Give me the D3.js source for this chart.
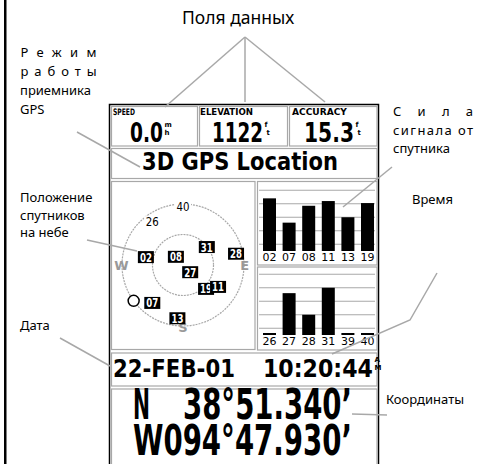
<!DOCTYPE html>
<meta charset="utf-8">
<script src="https://d3js.org/d3.v7.min.js"></script>
<style>body{margin:0;background:#fff}</style>
<div id="my_dataviz"></div>
<script>
// data fields on top of the screen
var fieldLabels = ["SPEED", "ELEVATION", "ACCURACY"];
var fieldValues = ["0.0", "1122", "15.3"];
var fieldUnitsTop = ["m", "f", "f"];
var fieldUnitsBottom = ["h", "t", "t"];
var receiverMode = "3D GPS Location";

// sky view: satellite id, azimuth (deg), elevation (deg), tracked
var skyIds = ["02", "08", "31", "28", "27", "19", "11", "07", "13", "40", "26"];
var skyAzimuth = [282, 319, 53, 78, 135, 136, 122, 219, 186, 0, 325];
var skyElevation = [34, 74, 46, 10, 75, 41, 29, 18, 11, 4, 11];
var skyTracked = [true, true, true, true, true, true, true, true, true, false, false];
var skyRings = [0, 45];
var compassLetters = ["W", "E", "S"];
var compassAzimuth = [270, 90, 180];

// signal strength bars
var sigIdsTop = ["02", "07", "08", "11", "13", "19"];
var sigTop = [3.9, 2.1, 3.35, 3.7, 2.5, 3.55];
var sigIdsBottom = ["26", "27", "28", "31", "39", "40"];
var sigBottom = [0, 3.1, 1.5, 3.5, 0, 0];
var sigGrid = [0.5, 1.5, 2.5, 3.5, 4.5];

// date, time, position
var dateText = "22-FEB-01";
var timeText = "10:20:44";
var timeSuffix = ["A", "M"];
var latHemi = "N";
var latText = "38°51.340’";
var lonText = "W094°47.930’";

var W = 482, H = 464;
var svg = d3.select("#my_dataviz").append("svg")
    .attr("width", W).attr("height", H);

var gray = "#a8a8a8";
var screenFont = "DejaVu Sans, sans-serif";
var noteFont = "Noto Sans, sans-serif";

// left page edge
svg.append("rect").attr("x", 4).attr("y", 0).attr("width", 2.5).attr("height", H).attr("fill", "#000");

// screen frame
svg.append("rect").attr("x", 109.5).attr("y", 104.5).attr("width", 269).attr("height", 380)
    .attr("fill", "none").attr("stroke", "#000").attr("stroke-width", 1.5);

function box(x, y, w, h) {
    svg.append("rect").attr("x", x).attr("y", y).attr("width", w).attr("height", h)
        .attr("fill", "none").attr("stroke", gray).attr("stroke-width", 1.2);
}
box(111.5, 106.5, 86, 39.5);
box(199.5, 106.5, 88, 39.5);
box(289.5, 106.5, 87.5, 39.5);
box(111.5, 148.5, 265.5, 30);
box(111.5, 181.5, 143.5, 168);
box(257.5, 181.5, 119.5, 83.5);
box(257.5, 267, 119.5, 83);
box(111.5, 353, 265.5, 33);
box(111.5, 389, 265.5, 80);

// text squeezed horizontally to a given width (LCD look)
function txt(s, x, y, size, len, opt) {
    opt = opt || {};
    var t = svg.append("text")
        .attr("font-family", opt.font || screenFont)
        .attr("font-weight", opt.weight || "bold")
        .attr("font-size", size)
        .attr("fill", opt.fill || "#000")
        .attr("text-anchor", opt.anchor || "start")
        .text(s);
    if (len && opt.adjust == "spacing") {
        t.attr("x", x).attr("y", y).attr("textLength", len).attr("lengthAdjust", "spacing");
    } else if (len) {
        var k = len / t.node().getComputedTextLength();
        t.attr("transform", "translate(" + x + "," + y + ") scale(" + k + ",1)");
    } else {
        t.attr("x", x).attr("y", y);
    }
    return t;
}

// big value with a small stacked unit
function valueWithUnit(s, x, y, size, len, top, bottom, shift) {
    txt(s, x, y, size, len);
    var ux = x + len + 1.5;
    txt(top, ux, y - 15.5, 7, null);
    txt(bottom, ux + shift, y - 7, 7, null);
}

// data fields
var labelX = [113, 200, 292], labelLen = [22, 53, 55];
var valueX = [130, 212, 304], valueLen = [33, 51, 50];
fieldLabels.forEach(function (d, i) {
    txt(d, labelX[i], 114.5, 9, labelLen[i]);
    valueWithUnit(fieldValues[i], valueX[i], 142, 27, valueLen[i],
        fieldUnitsTop[i], fieldUnitsBottom[i], i ? 2 : 0);
});
txt(receiverMode, 142, 170, 24.5, 196);

// sky view
var cx = 183, cy = 265;
var r = d3.scaleLinear().domain([90, 0]).range([0, 61]);
function skyX(az, el) { return cx + r(el) * Math.sin(az * Math.PI / 180); }
function skyY(az, el) { return cy - r(el) * Math.cos(az * Math.PI / 180); }

svg.selectAll(".ring").data(skyRings).enter().append("circle")
    .attr("cx", cx).attr("cy", cy).attr("r", function (d) { return r(d); })
    .attr("fill", "none").attr("stroke", gray).attr("stroke-width", 1.2)
    .attr("stroke-dasharray", "2,1");

compassLetters.forEach(function (d, i) {
    var a = compassAzimuth[i];
    txt(d, skyX(a, -1), skyY(a, -1) + 5, 13, null, { anchor: "middle", fill: "#999" });
});

// open circle marker
svg.append("circle").attr("cx", skyX(234, 0)).attr("cy", skyY(234, 0)).attr("r", 5.5)
    .attr("fill", "#fff").attr("stroke", "#000").attr("stroke-width", 1.5);

skyIds.forEach(function (d, i) {
    var x = skyX(skyAzimuth[i], skyElevation[i]), y = skyY(skyAzimuth[i], skyElevation[i]);
    if (skyTracked[i]) {
        svg.append("rect").attr("x", x - 8).attr("y", y - 6).attr("width", 16).attr("height", 12).attr("fill", "#000");
        txt(d, x, y + 4.5, 11.5, 12, { anchor: "middle", fill: "#fff" });
    } else {
        svg.append("rect").attr("x", x - 8).attr("y", y - 5).attr("width", 16).attr("height", 10).attr("fill", "#fff");
        txt(d, x, y + 4.5, 11.5, 13, { anchor: "middle", weight: "normal" });
    }
});

// signal bars
function bars(ids, vals, base) {
    var x = d3.scaleBand().domain(ids).range([259.7, 259.7 + 6 * 19.6])
        .paddingInner(0.337).paddingOuter(0.1685);
    var y = d3.scaleLinear().domain([0, 5]).range([base, base - 67.5]);
    svg.append("g").selectAll("line").data(sigGrid).enter().append("line")
        .attr("x1", 259).attr("x2", 375)
        .attr("y1", function (d) { return y(d); }).attr("y2", function (d) { return y(d); })
        .attr("stroke", gray).attr("stroke-width", 1.2);
    svg.append("g").selectAll("rect").data(vals).enter().append("rect")
        .attr("x", function (d, i) { return x(ids[i]); })
        .attr("width", x.bandwidth())
        .attr("y", function (d) { return Math.min(y(d), base - 2); })
        .attr("height", function (d) { return Math.max(base - y(d), 2); })
        .attr("fill", "#000");
    ids.forEach(function (d) {
        txt(d, x(d) + x.bandwidth() / 2, base + 10, 11, 14, { anchor: "middle", weight: "normal" });
    });
}
bars(sigIdsTop, sigTop, 251);
bars(sigIdsBottom, sigBottom, 335);

// date / time
txt(dateText, 113, 377, 25, 122);
valueWithUnit(timeText, 263, 377, 25, 110, timeSuffix[0], timeSuffix[1], 0);

// position
txt(latHemi, 133, 419, 42, 17);
txt(latText, 183, 419, 42, 169);
txt(lonText, 133, 455, 42, 219);

// callout lines
var callouts = [
    [[245, 37], [165, 107]],
    [[245, 37], [245, 102]],
    [[245, 37], [325, 102]],
    [[77, 132], [140, 167]],
    [[87, 240], [137, 251]],
    [[60, 338], [110, 366]],
    [[392, 167], [343, 207]],
    [[437, 273], [410, 320], [332, 354]],
    [[387, 415], [352, 414]]
];
var line = d3.line();
callouts.forEach(function (p) {
    svg.append("path").attr("d", line(p)).attr("fill", "none")
        .attr("stroke", gray).attr("stroke-width", 1.5);
});

// notes
var noteOpt = { font: noteFont, weight: "normal" };
var noteSpread = { font: noteFont, weight: "normal", adjust: "spacing" };
txt("Поля данных", 182, 24, 17.5, null, noteOpt);
txt("Режим", 20.5, 57, 13, 76, noteSpread);
txt("работы", 20.5, 76, 13, 76, noteSpread);
txt("приемника", 20, 95, 13, null, noteOpt);
txt("GPS", 20, 114, 13, null, noteOpt);
txt("Положение", 20, 202, 13, null, noteOpt);
txt("спутников", 20, 219.5, 13, null, noteOpt);
txt("на небе", 20, 237, 13, null, noteOpt);
txt("Дата", 20, 330, 13, null, noteOpt);
txt("Сила", 393, 116, 13, 80, noteSpread);
txt("сигнала от", 393, 134.5, 13, 80, noteSpread);
txt("спутника", 393, 153, 13, null, noteOpt);
txt("Время", 412, 204, 13, null, noteOpt);
txt("Координаты", 386, 404, 13, null, noteOpt);
</script>
